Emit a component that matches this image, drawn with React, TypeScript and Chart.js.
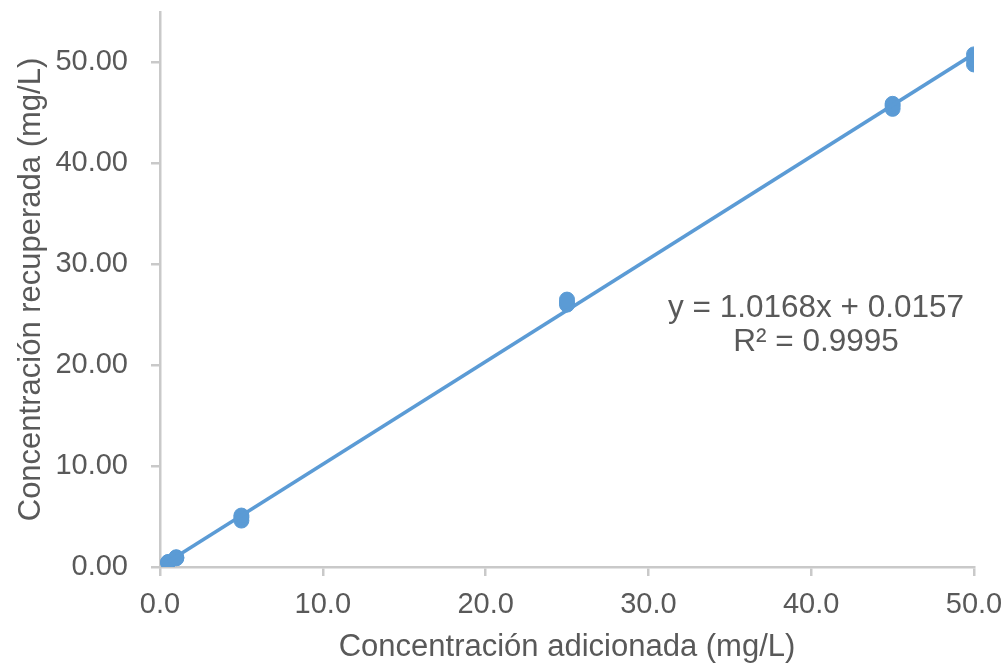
import React, { useEffect, useRef } from "react";
import { Chart, registerables } from "chart.js";

Chart.register(...registerables);

// Added concentration levels (mg/L) and three recovered replicates per level
const addedLevels = [0.5, 1, 5, 25, 45, 50];
const recoveredRep1 = [0.42, 0.86, 4.6, 26.0, 45.4, 49.8];
const recoveredRep2 = [0.46, 0.92, 4.9, 26.2, 45.7, 50.3];
const recoveredRep3 = [0.5, 0.97, 5.1, 26.5, 45.9, 50.8];

// Linear fit shown in the annotation
const slope = 1.0168;
const intercept = 0.0157;
const rSquared = "0.9995";

const xTicks = [0, 10, 20, 30, 40, 50];
const yTicks = [0, 10, 20, 30, 40, 50];

const BLUE = "#5b9bd5";
const GREY_TEXT = "#595959";
const AXIS_GREY = "#c9c9c9";
const FONT = "'Liberation Sans', Arial, sans-serif";

const fitLabelPlugin = {
  id: "fitLabel",
  afterDatasetsDraw(chart: any) {
    const { ctx } = chart;
    ctx.save();
    ctx.fillStyle = GREY_TEXT;
    ctx.font = `31.5px ${FONT}`;
    ctx.textAlign = "center";
    ctx.textBaseline = "alphabetic";
    const cx = 816;
    ctx.fillText(`y = ${slope.toFixed(4)}x + ${intercept.toFixed(4)}`, cx, 317);
    ctx.fillText(`R² = ${rSquared}`, cx, 351);
    ctx.restore();
  },
};

export default function App() {
  const canvasRef = useRef<HTMLCanvasElement | null>(null);

  useEffect(() => {
    if (!canvasRef.current) return;
    const points: { x: number; y: number }[] = [];
    [recoveredRep1, recoveredRep2, recoveredRep3].forEach((rep) =>
      rep.forEach((y, i) => points.push({ x: addedLevels[i], y }))
    );
    const xMin = Math.min(...addedLevels);
    const xMax = Math.max(...addedLevels);
    const fitLine = [
      { x: xMin, y: slope * xMin + intercept },
      { x: xMax, y: slope * xMax + intercept },
    ];

    const chart = new Chart(canvasRef.current, {
      type: "scatter",
      data: {
        datasets: [
          {
            type: "line",
            data: fitLine,
            borderColor: BLUE,
            borderWidth: 3.5,
            pointRadius: 0,
            fill: false,
            order: 0,
          } as any,
          {
            data: points,
            backgroundColor: BLUE,
            borderColor: BLUE,
            pointRadius: 7.5,
            pointHoverRadius: 7.5,
            order: 1,
          },
        ],
      },
      options: {
        animation: false,
        responsive: false,
        layout: { padding: { top: 12, right: 34, left: 0, bottom: 0 } },
        plugins: {
          legend: { display: false },
          tooltip: { enabled: false },
        },
        scales: {
          x: {
            type: "linear",
            min: 0,
            max: 50,
            afterBuildTicks: (axis: any) => {
              axis.ticks = xTicks.map((v) => ({ value: v }));
            },
            ticks: {
              color: GREY_TEXT,
              font: { size: 29, family: FONT },
              padding: 12,
              maxRotation: 0,
              callback: (v: any) => Number(v).toFixed(1),
            },
            grid: {
              display: true,
              drawOnChartArea: false,
              drawTicks: true,
              tickLength: 9,
              color: AXIS_GREY,
              lineWidth: 2.5,
            },
            border: { display: true, color: AXIS_GREY, width: 2.5 },
            title: {
              display: true,
              text: "Concentración adicionada (mg/L)",
              color: GREY_TEXT,
              font: { size: 31, family: FONT },
              padding: { top: 0, bottom: 0 },
            },
            afterFit: (scale: any) => {
              scale.height = 99;
              scale.paddingLeft = 0;
              scale.paddingRight = 0;
            },
          },
          y: {
            type: "linear",
            min: 0,
            max: 55,
            afterBuildTicks: (axis: any) => {
              axis.ticks = yTicks.map((v) => ({ value: v }));
            },
            ticks: {
              color: GREY_TEXT,
              font: { size: 29, family: FONT },
              padding: 23,
              callback: (v: any) => Number(v).toFixed(2),
            },
            grid: {
              display: true,
              drawOnChartArea: false,
              drawTicks: true,
              tickLength: 9,
              color: AXIS_GREY,
              lineWidth: 2.5,
            },
            border: { display: true, color: AXIS_GREY, width: 2.5 },
            title: {
              display: true,
              text: "Concentración recuperada (mg/L)",
              color: GREY_TEXT,
              font: { size: 31, family: FONT },
              padding: { top: 13, bottom: 0 },
            },
            afterFit: (scale: any) => {
              scale.width = 160;
              scale.paddingTop = 0;
              scale.paddingBottom = 0;
            },
          },
        },
      },
      plugins: [fitLabelPlugin],
    });
    return () => chart.destroy();
  }, []);

  return (
    <div style={{ position: "absolute", left: 0, top: 0, width: 1008, height: 666, background: "#fff" }}>
      <canvas ref={canvasRef} width={1008} height={666} style={{ width: 1008, height: 666 }} />
    </div>
  );
}
